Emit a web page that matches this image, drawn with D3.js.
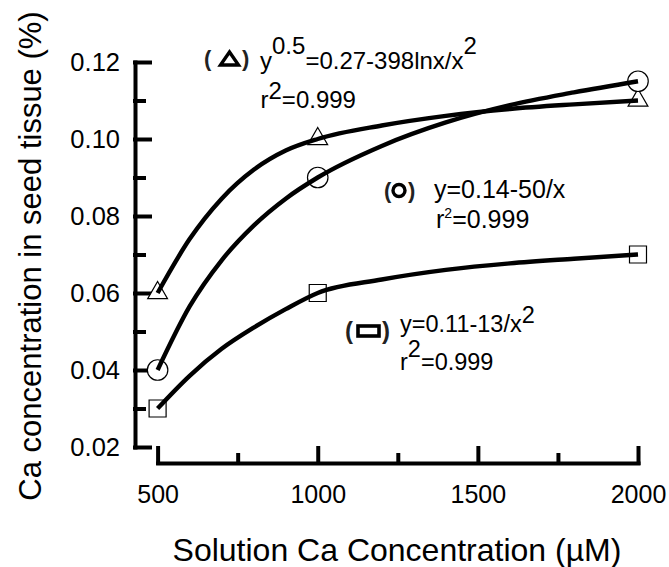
<!DOCTYPE html>
<html>
<head>
<meta charset="utf-8">
<script src="https://cdn.jsdelivr.net/npm/d3@7"></script>
<style>
body { margin: 0; background: #fff; }
text { font-family: "Liberation Sans", Arial, sans-serif; fill: #000; }
</style>
</head>
<body>
<svg id="chart" width="669" height="567"></svg>
<script>
// measured points
var conc = [500, 1000, 2000];
var triVals = [0.06, 0.10, 0.11];
var circVals = [0.04, 0.09, 0.115];
var sqVals = [0.03, 0.06, 0.07];

// fitted curves
var fitX = [500, 600, 700, 800, 900, 1000, 1200, 1400, 1600, 1800, 2000];
var triFit = [0.060, 0.0740, 0.0845, 0.0920, 0.0970, 0.100, 0.1035, 0.1060, 0.1078, 0.1090, 0.110];
var circFit = [0.040, 0.0565, 0.0685, 0.0775, 0.0845, 0.090, 0.0982, 0.1043, 0.1088, 0.1121, 0.115];
var sqFit = [0.030, 0.0385, 0.0455, 0.0510, 0.0558, 0.060, 0.0635, 0.0660, 0.0677, 0.0689, 0.070];

var xTicks = [500, 1000, 1500, 2000];
var xMinor = [750, 1250, 1750];
var yTicks = [0.02, 0.04, 0.06, 0.08, 0.10, 0.12];
var yMinor = [0.03, 0.05, 0.07, 0.09, 0.11];

var svg = d3.select('#chart');

var x = d3.scaleLinear().domain([500, 2000]).range([157.6, 638]);
var y = d3.scaleLinear().domain([0.02, 0.12]).range([447, 62]);

function styleAxis(g) {
  g.selectAll('path, line')
    .attr('stroke', '#000')
    .attr('stroke-width', 4)
    .attr('stroke-linecap', 'square');
}

// left axis, ticks pointing inward
var gy = svg.append('g')
    .attr('transform', 'translate(135,0)')
    .call(d3.axisLeft(y).tickValues(yTicks).tickFormat(d3.format('.2f'))
      .tickSize(-15).tickSizeOuter(0).tickPadding(15));
var gyMinor = svg.append('g')
    .attr('transform', 'translate(135,0)')
    .call(d3.axisLeft(y).tickValues(yMinor).tickFormat('').tickSize(-9).tickSizeOuter(0));
gyMinor.select('.domain').remove();
styleAxis(gy); styleAxis(gyMinor);
gy.selectAll('text').style('font-size', '25.5px');

// bottom axis
var gx = svg.append('g')
    .attr('transform', 'translate(0,463)')
    .call(d3.axisBottom(x).tickValues(xTicks).tickFormat(d3.format('d'))
      .tickSize(-15).tickSizeOuter(0).tickPadding(22));
var gxMinor = svg.append('g')
    .attr('transform', 'translate(0,463)')
    .call(d3.axisBottom(x).tickValues(xMinor).tickFormat('').tickSize(-8).tickSizeOuter(0));
gxMinor.select('.domain').remove();
styleAxis(gx); styleAxis(gxMinor);
gx.selectAll('text').style('font-size', '25px');

// titles
svg.append('text')
    .attr('transform', 'translate(41,256) rotate(-90)')
    .attr('text-anchor', 'middle')
    .style('font-size', '31px')
    .text('Ca concentration in seed tissue (%)');
svg.append('text')
    .attr('x', 397).attr('y', 561)
    .attr('text-anchor', 'middle')
    .style('font-size', '32px')
    .text('Solution Ca Concentration (µM)');

// markers
var series = [
  {vals: triVals, fit: triFit, sym: d3.symbolTriangle, size: 170},
  {vals: circVals, fit: circFit, sym: d3.symbolCircle, size: 330},
  {vals: sqVals, fit: sqFit, sym: d3.symbolSquare, size: 289}
];

series.forEach(function(s) {
  svg.append('g').selectAll('path')
    .data(conc)
    .enter().append('path')
    .attr('transform', function(d, i) { return 'translate(' + x(d) + ',' + y(s.vals[i]) + ')'; })
    .attr('d', d3.symbol().type(s.sym).size(s.size))
    .attr('fill', '#fff')
    .attr('stroke', '#000')
    .attr('stroke-width', 1.2);
});

var line = d3.line()
    .curve(d3.curveMonotoneX)
    .x(function(d, i) { return x(fitX[i]); })
    .y(function(d) { return y(d); });

series.forEach(function(s) {
  svg.append('path')
    .datum(s.fit)
    .attr('d', line)
    .attr('fill', 'none')
    .attr('stroke', '#000')
    .attr('stroke-width', 4.4);
});

// equation labels
function eq(tx, ty, size, parts) {
  var t = svg.append('text')
      .attr('x', tx).attr('y', ty)
      .style('font-size', size + 'px');
  parts.forEach(function(p) {
    var sp = t.append('tspan').text(p[0]);
    if (p[1]) sp.attr('dy', p[1]);
    if (p[2]) sp.style('font-size', p[2] + 'px');
  });
}
function parens(x0, x1, by, size) {
  [[x0, '('], [x1, ')']].forEach(function(p) {
    svg.append('text')
      .attr('x', p[0]).attr('y', by)
      .style('font-size', size + 'px')
      .style('font-weight', 'bold')
      .style('fill', '#222')
      .text(p[1]);
  });
}

// triangle
parens(204, 242, 66, 22);
svg.append('path')
    .attr('d', 'M229.5,52L220.5,65L238.5,65Z')
    .attr('fill', 'none').attr('stroke', '#000').attr('stroke-width', 3.4).attr('stroke-linejoin', 'miter');
eq(260, 69, 24, [['y'], ['0.5', -15], ['=0.27-398lnx/x', 15], ['2', -15]]);
eq(260.5, 108, 24, [['r'], ['2', -9], ['=0.999', 9]]);

// circle
parens(384, 408, 198, 22);
svg.append('circle')
    .attr('cx', 399).attr('cy', 190.5).attr('r', 6)
    .attr('fill', 'none').attr('stroke', '#000').attr('stroke-width', 3.4);
eq(434, 198, 25, [['y=0.14-50/x']]);
eq(436, 227.5, 25, [['r'], ['2', -10, 14], ['=0.999', 10]]);

// square
parens(345, 382, 339, 24);
svg.append('rect')
    .attr('x', 358).attr('y', 326).attr('width', 21).attr('height', 10)
    .attr('fill', 'none').attr('stroke', '#000').attr('stroke-width', 3.6);
eq(400, 332, 23.5, [['y=0.11-13/x'], ['2', -9]]);
eq(400, 370, 23.5, [['r'], ['2', -13], ['=0.999', 13]]);
</script>
</body>
</html>
